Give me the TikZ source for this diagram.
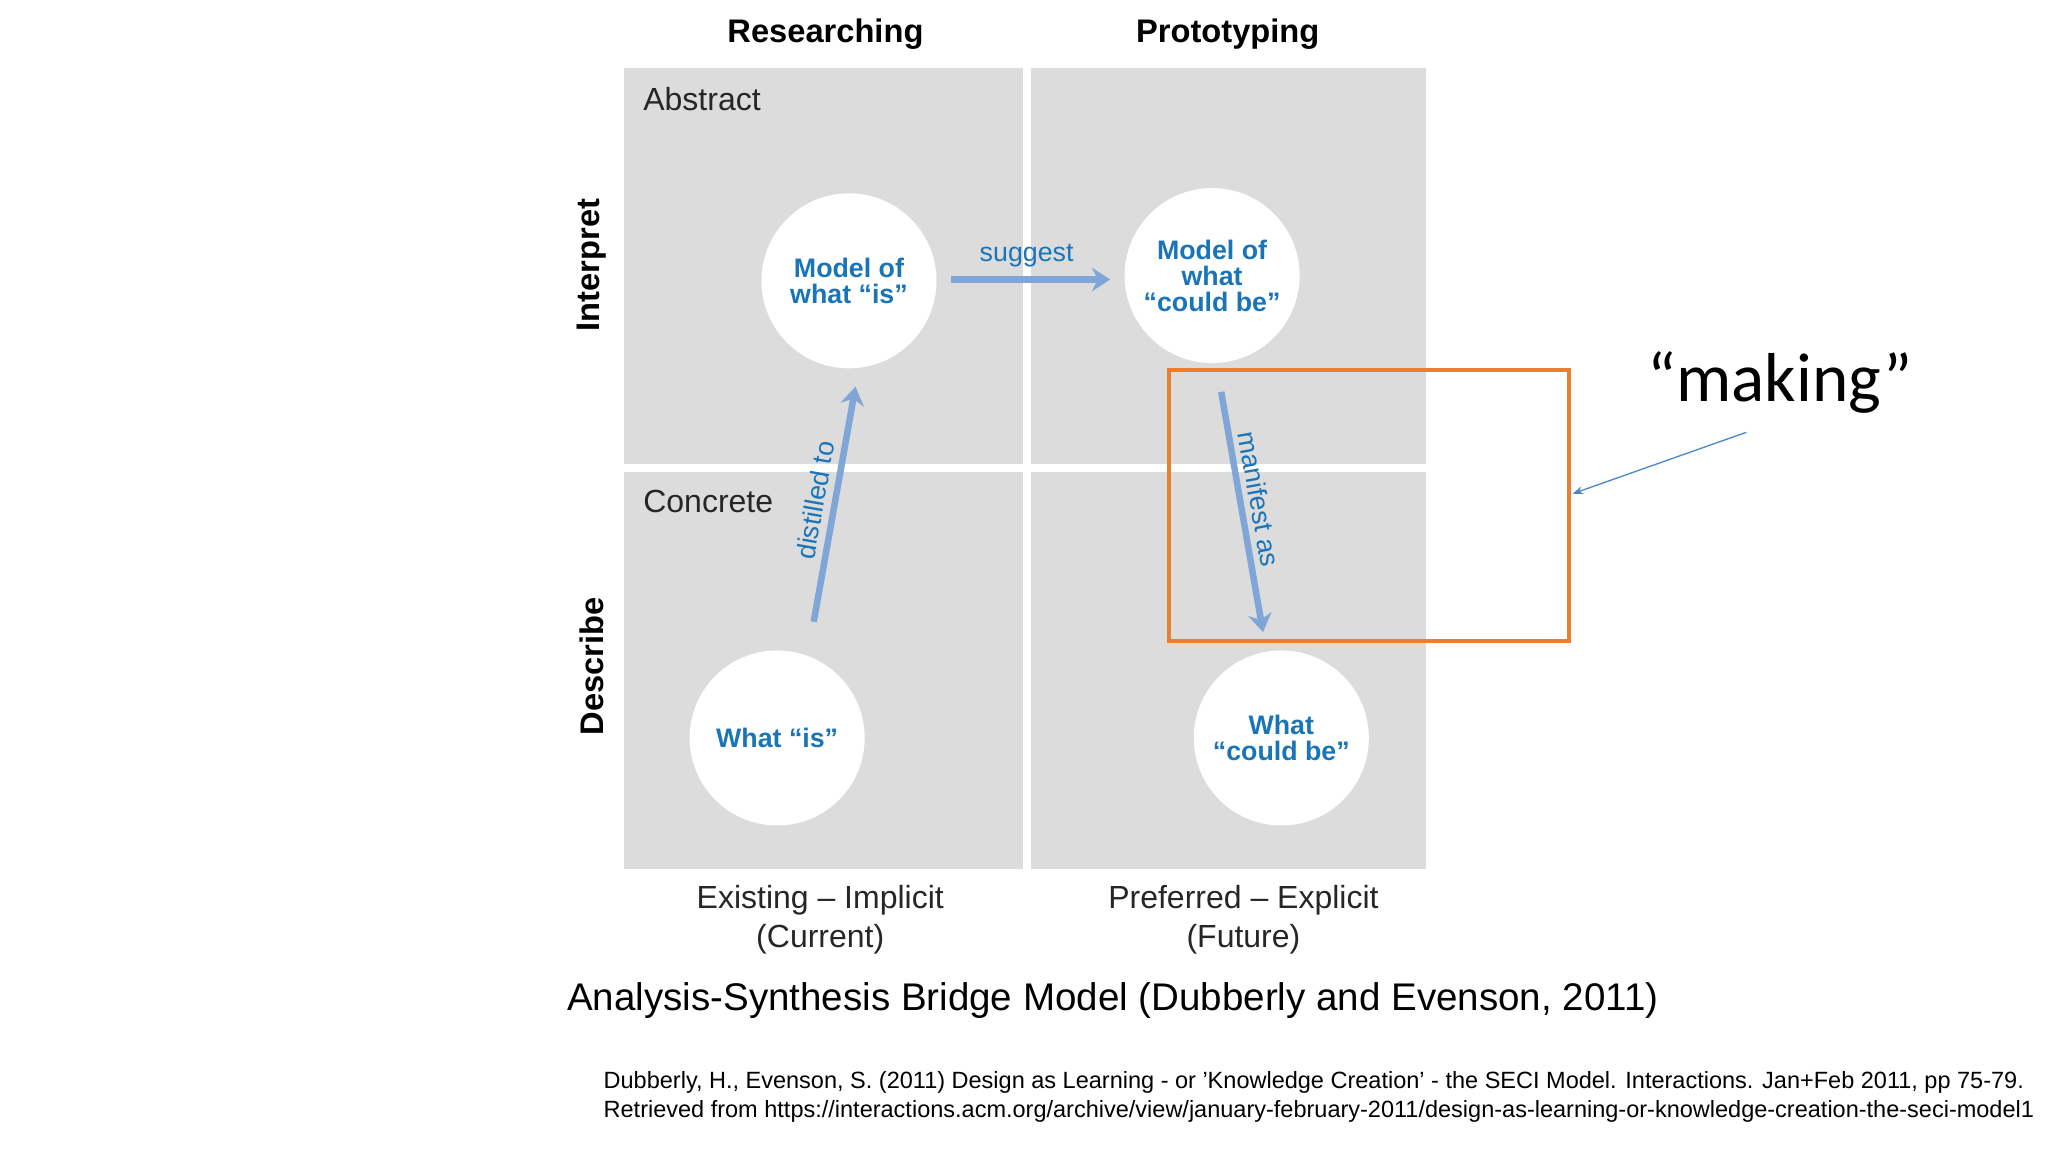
\documentclass[tikz,border=0pt]{standalone}
\usepackage{fontspec}
\setmainfont{Liberation Sans}
\newfontfamily\calib{Carlito}
\usetikzlibrary{arrows.meta}
\definecolor{quad}{HTML}{DCDCDD}
\definecolor{txtblue}{HTML}{1A75B8}
\definecolor{arrblue}{HTML}{7FA6D6}
\definecolor{orng}{HTML}{ED7D31}
\definecolor{thinblue}{HTML}{4A86C8}
\tikzset{
  quadrant/.style={fill=quad, draw=none},
  bubble/.style={circle, fill=white, minimum size=134pt, inner sep=0pt, align=center,
    text=txtblue, font=\fontsize{20.5}{20}\selectfont\bfseries},
  flow/.style={draw=arrblue, line width=5pt, -{Stealth[length=14pt,width=18pt]}},
  flowlabel/.style={text=txtblue, font=\fontsize{20.5}{20}\selectfont},
  coltitle/.style={font=\fontsize{25}{25}\selectfont\bfseries},
  axis/.style={font=\fontsize{24.5}{30}\selectfont, align=center, text=black!85}
}
\begin{document}
\begin{tikzpicture}[x=1pt, y=-1pt]
\useasboundingbox (0,0) rectangle (1568,882);
% quadrants
\fill[quadrant] (478,52) rectangle (783,355);
\fill[quadrant] (789,52) rectangle (1092,355);
\fill[quadrant] (478,361) rectangle (783,665);
\fill[quadrant] (789,361) rectangle (1092,665);
% titles
\node[coltitle] (res) at (632,26) {Researching};
\node[coltitle] (pro) at (940,26) {Prototyping};
\node[coltitle, rotate=90] (intp) at (453,203) {Interpret};
\node[coltitle, rotate=90] (desc) at (453,510) {Describe};
\node[axis, anchor=west] (abs) at (489,76) {Abstract};
\node[axis, anchor=west] (con) at (489,384) {Concrete};
% bubbles
\node[bubble] (mis) at (650,215) {Model of\\what “is”};
\node[bubble] (mcb) at (928,211) {Model of\\what\\“could be”};
\node[bubble] (wis) at (595,565) {What “is”};
\node[bubble] (wcb) at (981,565) {What\\“could be”};
% flows
\coordinate (s1) at (728,214); \coordinate (s2) at (850,214);
\draw[flow] (s1) -- (s2);
\node[flowlabel] (sug) at (786,196) {suggest};
\coordinate (d1) at (623,476); \coordinate (d2) at (655,296);
\draw[flow] (d1) -- (d2);
\node[flowlabel, rotate=80] (dis) at (624,383) {distilled to};
\coordinate (m1) at (935,300); \coordinate (m2) at (967,484);
\draw[flow] (m1) -- (m2);
\node[flowlabel, rotate=-80] (man) at (964,382) {manifest as};
% highlight
\draw[orng, line width=3pt] (895,283) rectangle (1201,491);
\node[font=\calib\fontsize{53}{53}\selectfont] (mk) at (1363,293) {“making”};
\coordinate (t1) at (1337,331); \coordinate (t2) at (1204,378);
\draw[thinblue, line width=1pt, -{Stealth[length=8pt]}] (t1) -- (t2);
% axis labels
\node[axis] (ex) at (628,704) {Existing – Implicit\\(Current)};
\node[axis] (pr) at (952,704) {Preferred – Explicit\\(Future)};
\node[font=\fontsize{29.5}{30}\selectfont] (cap) at (852,766) {Analysis-Synthesis Bridge Model (Dubberly and Evenson, 2011)};
\node[anchor=west, align=left, font=\fontsize{18}{22}\selectfont, inner sep=0pt] (ref) at (462,840)
 {Dubberly, H., Evenson, S. (2011) Design as Learning - or 'Knowledge Creation' - the SECI Model. Interactions. Jan+Feb 2011, pp 75-79.\\Retrieved from https://interactions.acm.org/archive/view/january-february-2011/design-as-learning-or-knowledge-creation-the-seci-model1};
\end{tikzpicture}
\end{document}
